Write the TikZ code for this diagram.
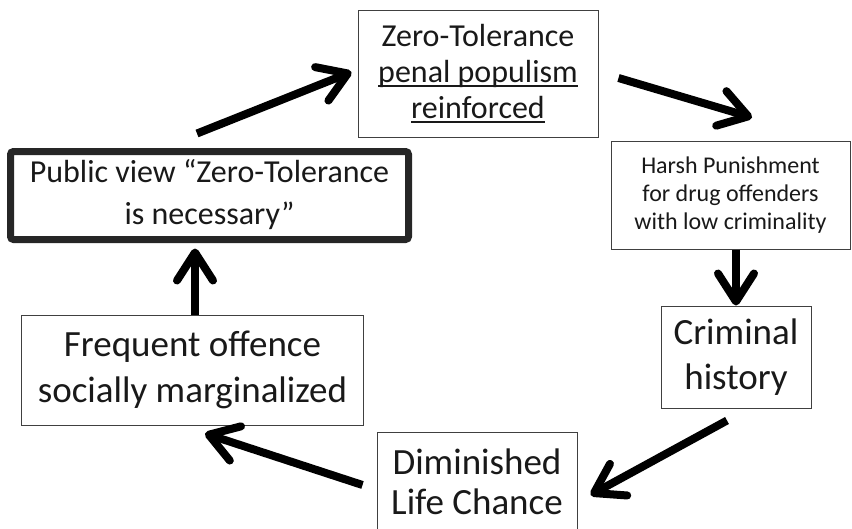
\documentclass[tikz,border=0pt]{standalone}
\usepackage{fontspec}
\setmainfont{Carlito}
\usetikzlibrary{arrows.meta}
\newcommand\undl[1]{\setbox0\hbox{#1}\rlap{\rule[-4.5pt]{\wd0}{1.8pt}}\box0}
\tikzset{
  box/.style={draw=black!75, line width=1pt, fill=white, text=black!90, align=center, inner sep=0pt},
  flow/.style={line width=8pt, -{Straight Barb[length=28pt,width=36pt,round]}},
}
\begin{document}
\begin{tikzpicture}[x=1pt,y=-1pt]
    \useasboundingbox (0,0) rectangle (852,528);
    \clip (0,0) rectangle (852,528);
    \node[box, minimum width=240pt, minimum height=127pt, font=\fontsize{32}{36}\selectfont] (zero) at (478,73.5) {Zero-Tolerance\\ \undl{penal populism}\\ \undl{reinforced}};
    \node[box, minimum width=239pt, minimum height=108pt, font=\fontsize{24}{28}\selectfont] (harsh) at (730.5,195) {Harsh Punishment\\ for drug offenders\\ with low criminality};
    \node[box, minimum width=150pt, minimum height=102pt, font=\fontsize{37}{45}\selectfont] (crim) at (736,357) {Criminal\\ history};
    \node[box, minimum width=200pt, minimum height=100pt, font=\fontsize{37}{40}\selectfont] (dim) at (477,482) {Diminished\\ Life Chance};
    \node[box, minimum width=342pt, minimum height=110pt, font=\fontsize{37}{46}\selectfont] (freq) at (192.5,370) {Frequent offence\\ socially marginalized};
    \node[box, draw=black!85, line width=7pt, rounded corners=3pt, minimum width=398pt, minimum height=88pt, font=\fontsize{32}{42}\selectfont] (pub) at (209.5,195.5) {\raisebox{5pt}{\begin{tabular}{@{}c@{}}Public view “Zero-Tolerance\\ is necessary”\end{tabular}}};
    % cycle of arrows
    \draw[flow] ([shift={(-12.5,-14.5)}]pub.north) -- ([shift={(-6,-1.5)}]zero.west);
    \draw[flow] ([shift={(20,4.5)}]zero.east) -- ([shift={(21.5,-23)}]harsh.north);
    \draw[flow] (harsh.south -| crim.north) -- (crim.north);
    \draw[flow] ([shift={(-9,12)}]crim.south) -- ([shift={(13,13)}]dim.east);
    \draw[flow] ([shift={(-14,3)}]dim.west) -- ([shift={(12.5,8)}]freq.south);
    \draw[flow] ([xshift=2.5pt]freq.north) -- ([shift={(-14.5,5.5)}]pub.south);
\end{tikzpicture}
\end{document}
